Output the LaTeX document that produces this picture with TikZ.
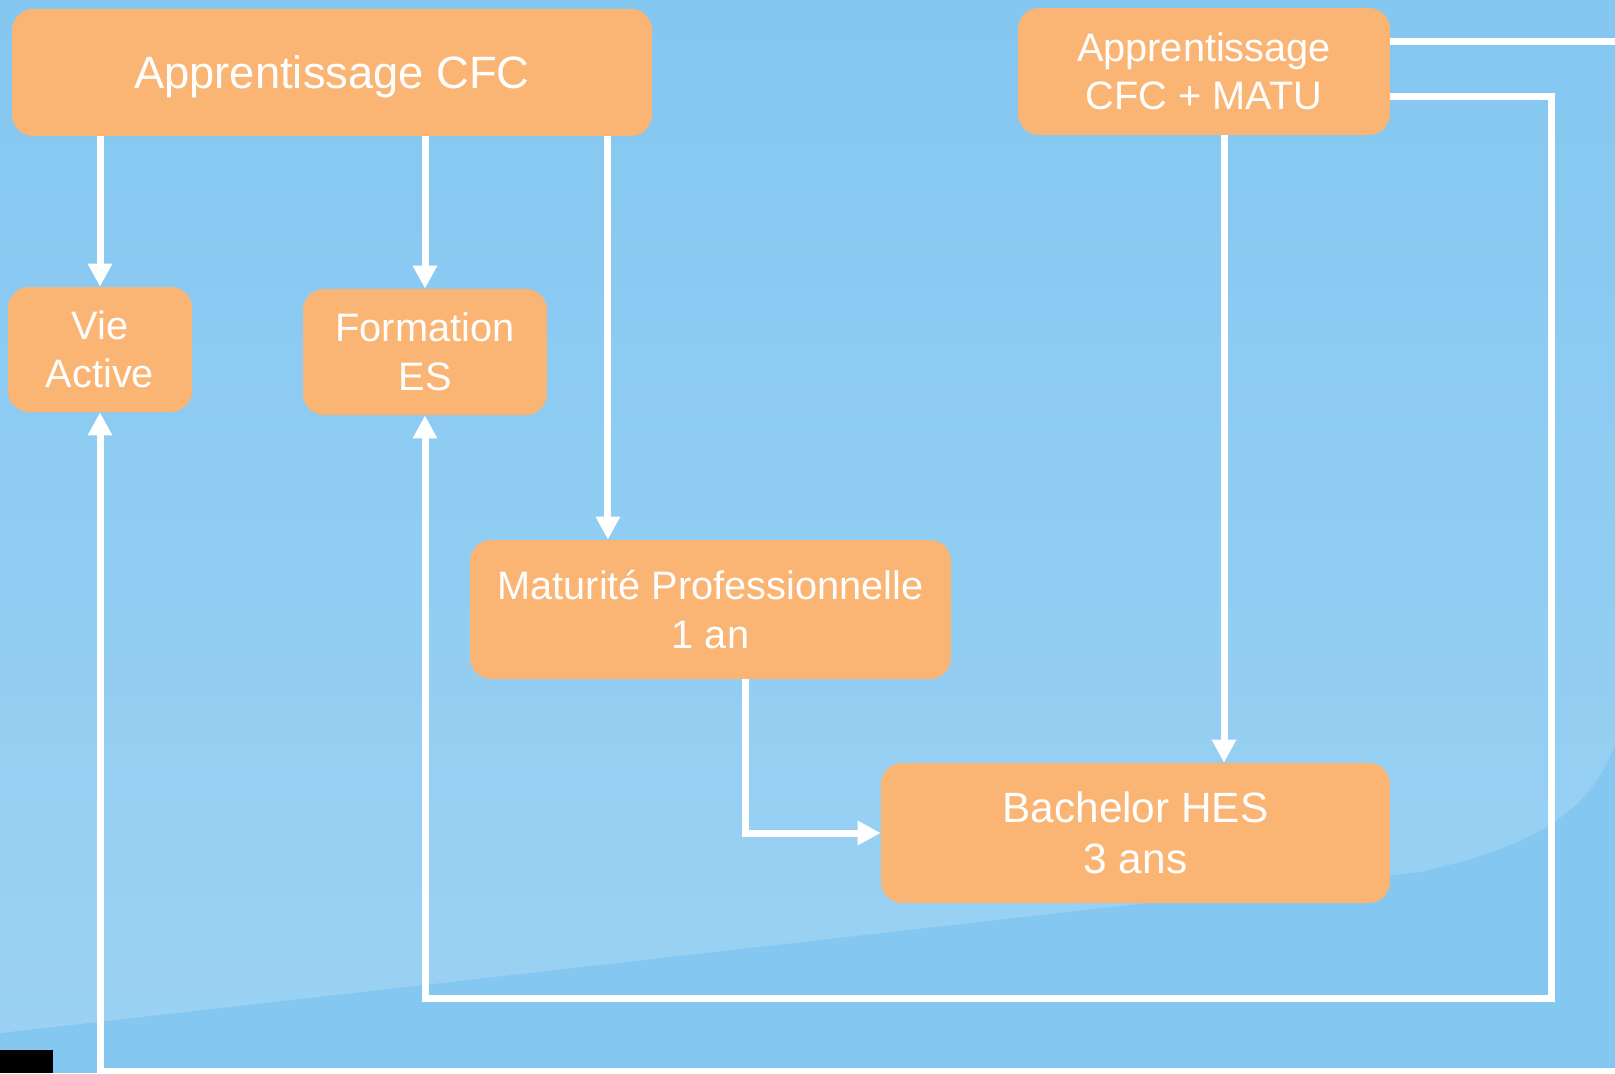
\documentclass[tikz,border=0pt]{standalone}
\usepackage{fontspec}
\setmainfont{Liberation Sans}
\usetikzlibrary{arrows.meta, positioning, calc}
\definecolor{fpBlue}{RGB}{132, 199, 241}
\definecolor{fpLightBlue}{RGB}{155, 210, 243}
\definecolor{fpOrange}{RGB}{250, 181, 116}

\begin{document}
\begin{tikzpicture}[
    x=0.02cm, y=-0.02cm,
    pathbox/.style={
        rectangle,
        rounded corners=0.42cm,
        inner sep=0pt,
        align=center,
        font=\fontsize{22.6}{27.6}\selectfont,
        text=white,
        fill=fpOrange
    },
    flow/.style={
        draw=white,
        line width=0.14cm,
        -{Triangle[width=0.46cm, length=0.46cm]}
    }
]

% Frame and background
\useasboundingbox (0,0) rectangle (1615,1073);
\clip (0,0) rectangle (1615,1073);
\fill[fpBlue] (0,0) rectangle (1615,1073);
\shade[top color=fpBlue, bottom color=fpLightBlue] (0,0) -- (1615,0) -- (1615,745)
    .. controls (1590,810) and (1540,845) .. (1420,872) -- (0,1033) -- cycle;
\fill[black] (0,1050) rectangle (53,1073);

% Top row
\node[pathbox, minimum width=12.8cm, minimum height=2.54cm, text depth=0pt, font=\fontsize{25.8}{31}\selectfont] (cfc) at (332,72.5) {Apprentissage CFC};
\node[pathbox, minimum width=7.44cm, minimum height=2.54cm] (matu) at (1204,71.5) {Apprentissage\\CFC + MATU};

% Second row
\node[pathbox, minimum width=3.68cm, minimum height=2.5cm] (vie) at (100,349.5) {Vie\\Active};
\node[pathbox, minimum width=4.88cm, minimum height=2.52cm] (form) at (425,352) {Formation\\ES};

% Lower boxes
\node[pathbox, minimum width=9.62cm, minimum height=2.78cm] (matpro) at (710.5,609.5) {Maturité Professionnelle\\1 an};
\node[pathbox, minimum width=10.18cm, minimum height=2.8cm, font=\fontsize{24.1}{28.7}\selectfont] (bach) at (1135.5,833) {Bachelor HES\\3 ans};

% Connectors
\draw[flow] (vie.north |- cfc.south) -- (vie.north);
\draw[flow] (form.north |- cfc.south) -- (form.north);
\coordinate (mpin) at ($(matpro.north west)!0.287!(matpro.north east)$);
\draw[flow] (mpin |- cfc.south) -- (mpin);
\coordinate (hesin) at ([xshift=0.4cm]matu.south);
\draw[flow] (hesin) -- (hesin |- bach.north);
\draw[flow] ([xshift=0.69cm]matpro.south) |- (bach.west);
\coordinate (loopES) at (1551,998);
\draw[flow] ([yshift=-0.49cm]matu.east) -| (loopES) -| (form.south);
\coordinate (loopVie) at (1640,1071.5);
\draw[flow] ([yshift=0.61cm]matu.east) -| (loopVie) -| (vie.south);

\end{tikzpicture}
\end{document}
